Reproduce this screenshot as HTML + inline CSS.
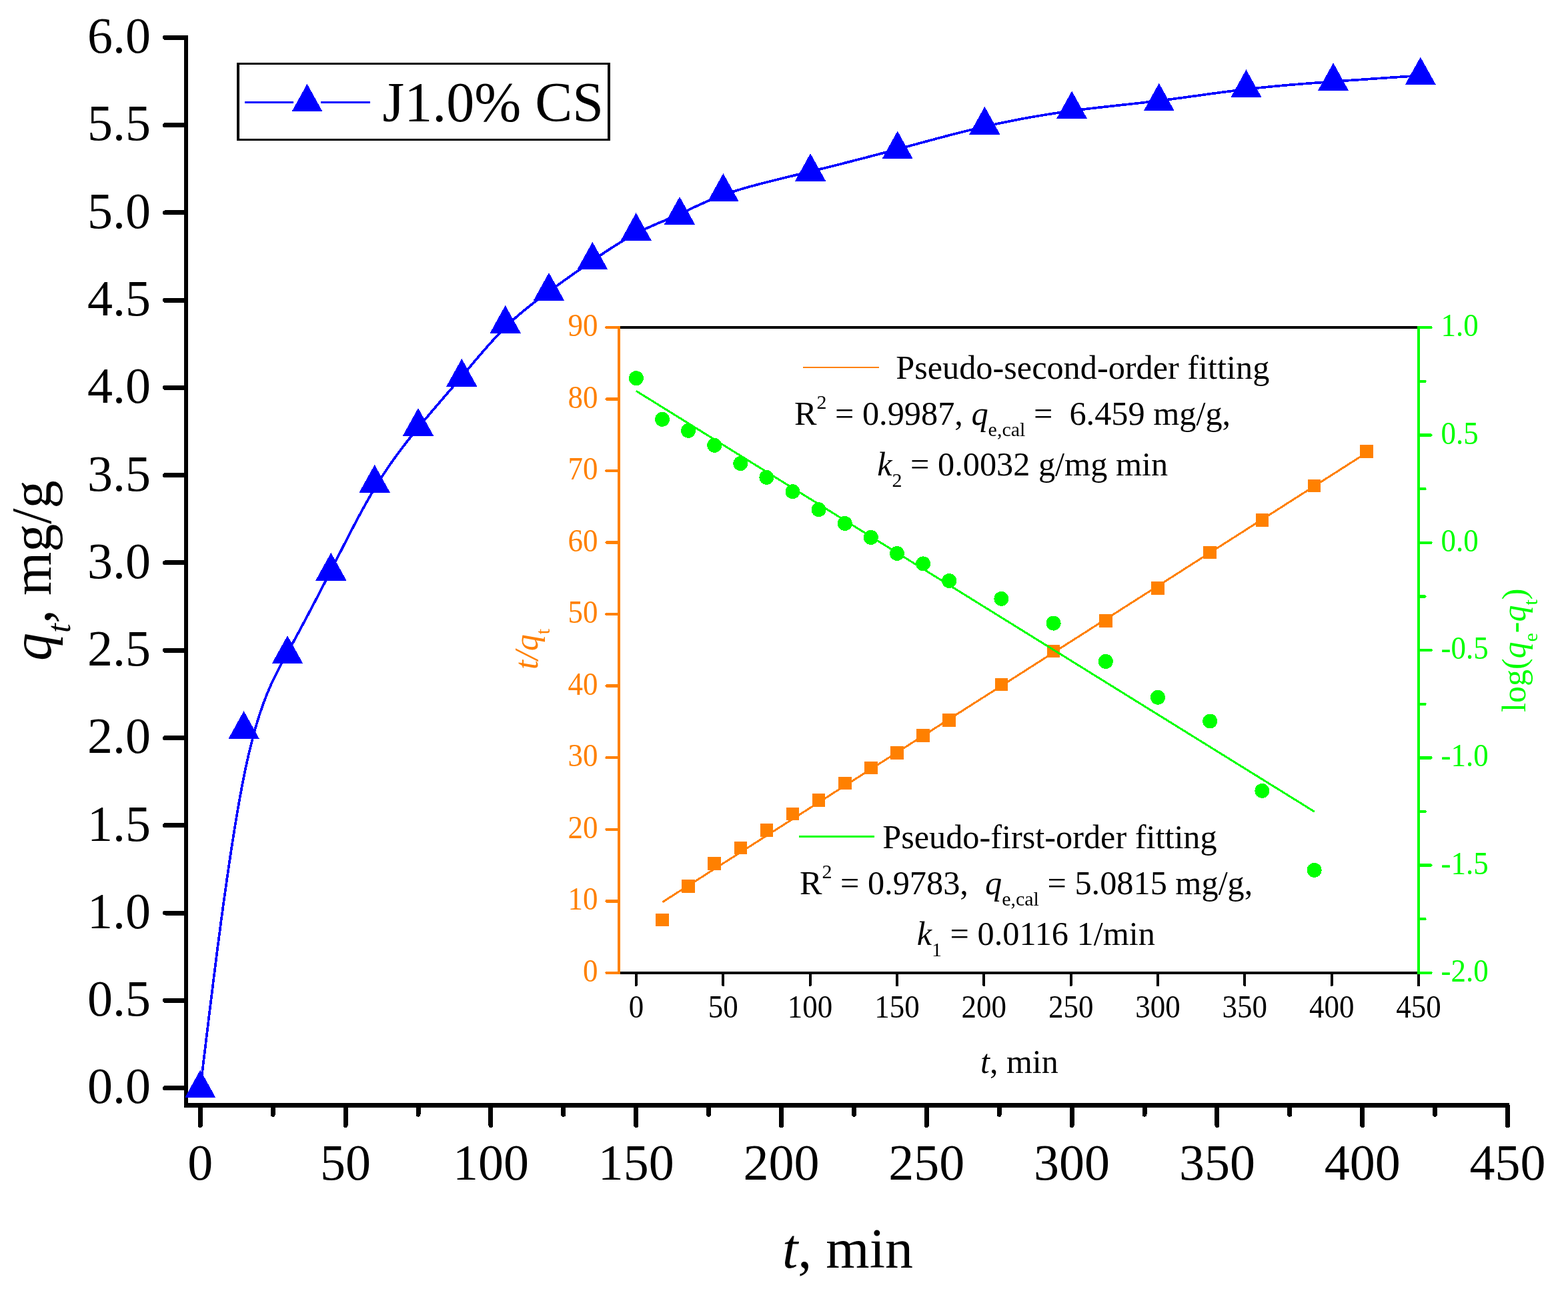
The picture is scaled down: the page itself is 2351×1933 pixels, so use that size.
<!DOCTYPE html>
<html><head><meta charset="utf-8"><title>Adsorption kinetics</title>
<style>html,body{margin:0;padding:0;background:#fff;}body{width:2351px;height:1933px;overflow:hidden;}svg{display:block;}text{white-space:pre;}</style>
</head><body>
<svg width="2351" height="1933" viewBox="0 0 2351 1933" font-family="'Liberation Serif', 'Times New Roman', serif" shape-rendering="crispEdges">
<rect width="2351" height="1933" fill="#fff"/>
<g fill="#000">
<rect x="276" y="53" width="6" height="1608"/>
<rect x="276" y="1654" width="1987" height="7"/>
</g>
<g stroke="#000" stroke-width="7" stroke-linecap="round">
<line x1="247.5" y1="1631.5" x2="278" y2="1631.5"/>
<line x1="247.5" y1="1500.2" x2="278" y2="1500.2"/>
<line x1="247.5" y1="1369.0" x2="278" y2="1369.0"/>
<line x1="247.5" y1="1237.7" x2="278" y2="1237.7"/>
<line x1="247.5" y1="1106.5" x2="278" y2="1106.5"/>
<line x1="247.5" y1="975.2" x2="278" y2="975.2"/>
<line x1="247.5" y1="843.9" x2="278" y2="843.9"/>
<line x1="247.5" y1="712.7" x2="278" y2="712.7"/>
<line x1="247.5" y1="581.4" x2="278" y2="581.4"/>
<line x1="247.5" y1="450.2" x2="278" y2="450.2"/>
<line x1="247.5" y1="318.9" x2="278" y2="318.9"/>
<line x1="247.5" y1="187.6" x2="278" y2="187.6"/>
<line x1="247.5" y1="56.4" x2="278" y2="56.4"/>
<line x1="300.3" y1="1659" x2="300.3" y2="1687.5"/>
<line x1="518.1" y1="1659" x2="518.1" y2="1687.5"/>
<line x1="735.9" y1="1659" x2="735.9" y2="1687.5"/>
<line x1="953.7" y1="1659" x2="953.7" y2="1687.5"/>
<line x1="1171.5" y1="1659" x2="1171.5" y2="1687.5"/>
<line x1="1389.3" y1="1659" x2="1389.3" y2="1687.5"/>
<line x1="1607.1" y1="1659" x2="1607.1" y2="1687.5"/>
<line x1="1824.9" y1="1659" x2="1824.9" y2="1687.5"/>
<line x1="2042.7" y1="1659" x2="2042.7" y2="1687.5"/>
<line x1="2260.5" y1="1659" x2="2260.5" y2="1687.5"/>
<line x1="409.2" y1="1659" x2="409.2" y2="1671.2"/>
<line x1="627.0" y1="1659" x2="627.0" y2="1671.2"/>
<line x1="844.8" y1="1659" x2="844.8" y2="1671.2"/>
<line x1="1062.6" y1="1659" x2="1062.6" y2="1671.2"/>
<line x1="1280.4" y1="1659" x2="1280.4" y2="1671.2"/>
<line x1="1498.2" y1="1659" x2="1498.2" y2="1671.2"/>
<line x1="1716.0" y1="1659" x2="1716.0" y2="1671.2"/>
<line x1="1933.8" y1="1659" x2="1933.8" y2="1671.2"/>
<line x1="2151.6" y1="1659" x2="2151.6" y2="1671.2"/>
</g>
<g font-size="76" fill="#000">
<text x="226" y="1654.3" text-anchor="end">0.0</text>
<text x="226" y="1523.0" text-anchor="end">0.5</text>
<text x="226" y="1391.8" text-anchor="end">1.0</text>
<text x="226" y="1260.5" text-anchor="end">1.5</text>
<text x="226" y="1129.3" text-anchor="end">2.0</text>
<text x="226" y="998.0" text-anchor="end">2.5</text>
<text x="226" y="866.7" text-anchor="end">3.0</text>
<text x="226" y="735.5" text-anchor="end">3.5</text>
<text x="226" y="604.2" text-anchor="end">4.0</text>
<text x="226" y="473.0" text-anchor="end">4.5</text>
<text x="226" y="341.7" text-anchor="end">5.0</text>
<text x="226" y="210.4" text-anchor="end">5.5</text>
<text x="226" y="79.2" text-anchor="end">6.0</text>
<text x="300.3" y="1769.3" text-anchor="middle">0</text>
<text x="518.1" y="1769.3" text-anchor="middle">50</text>
<text x="735.9" y="1769.3" text-anchor="middle">100</text>
<text x="953.7" y="1769.3" text-anchor="middle">150</text>
<text x="1171.5" y="1769.3" text-anchor="middle">200</text>
<text x="1389.3" y="1769.3" text-anchor="middle">250</text>
<text x="1607.1" y="1769.3" text-anchor="middle">300</text>
<text x="1824.9" y="1769.3" text-anchor="middle">350</text>
<text x="2042.7" y="1769.3" text-anchor="middle">400</text>
<text x="2260.5" y="1769.3" text-anchor="middle">450</text>
</g>
<text x="1173" y="1901" font-size="84"><tspan font-style="italic">t</tspan>, min</text>
<text transform="translate(76,991) rotate(-90)" font-size="84"><tspan font-style="italic">q</tspan><tspan font-style="italic" font-size="50" dy="29">t</tspan><tspan dy="-29">, mg/g</tspan></text>
<path d="M300.30,1632.20 L300.30,1632.20 L300.30,1632.19 L300.30,1632.16 L300.31,1632.11 L300.32,1632.02 L300.34,1631.90 L300.36,1631.72 L300.39,1631.48 L300.42,1631.18 L300.47,1630.80 L300.53,1630.33 L300.59,1629.78 L300.67,1629.12 L300.77,1628.35 L300.87,1627.47 L301.00,1626.46 L301.14,1625.31 L301.29,1624.02 L301.47,1622.58 L301.66,1620.99 L301.88,1619.22 L302.11,1617.27 L302.37,1615.14 L302.65,1612.82 L302.96,1610.30 L303.29,1607.56 L303.65,1604.61 L304.04,1601.43 L304.45,1598.01 L304.89,1594.35 L305.37,1590.44 L305.88,1586.27 L306.41,1581.82 L306.99,1577.10 L307.60,1572.10 L308.24,1566.80 L308.92,1561.19 L309.64,1555.28 L310.39,1549.05 L311.19,1542.48 L312.03,1535.59 L312.90,1528.37 L313.82,1520.85 L314.77,1513.04 L315.76,1504.95 L316.79,1496.60 L317.85,1488.00 L318.94,1479.17 L320.07,1470.13 L321.23,1460.88 L322.42,1451.45 L323.64,1441.85 L324.88,1432.09 L326.16,1422.19 L327.46,1412.17 L328.79,1402.04 L330.14,1391.81 L331.51,1381.50 L332.91,1371.12 L334.33,1360.69 L335.77,1350.23 L337.23,1339.75 L338.71,1329.26 L340.20,1318.79 L341.71,1308.33 L343.24,1297.92 L344.78,1287.56 L346.33,1277.27 L347.90,1267.07 L349.48,1256.97 L351.06,1246.98 L352.66,1237.13 L354.26,1227.41 L355.88,1217.86 L357.49,1208.49 L359.12,1199.30 L360.74,1190.32 L362.37,1181.56 L364.01,1173.04 L365.64,1164.77 L367.27,1156.76 L368.91,1149.00 L370.54,1141.50 L372.17,1134.25 L373.81,1127.23 L375.44,1120.45 L377.07,1113.89 L378.71,1107.55 L380.34,1101.42 L381.97,1095.49 L383.61,1089.76 L385.24,1084.23 L386.88,1078.87 L388.51,1073.70 L390.14,1068.69 L391.78,1063.85 L393.41,1059.16 L395.04,1054.63 L396.68,1050.23 L398.31,1045.98 L399.94,1041.85 L401.58,1037.84 L403.21,1033.96 L404.84,1030.18 L406.48,1026.50 L408.11,1022.92 L409.74,1019.42 L411.38,1016.01 L413.01,1012.67 L414.64,1009.40 L416.28,1006.19 L417.91,1003.04 L419.55,999.93 L421.18,996.87 L422.81,993.84 L424.45,990.83 L426.08,987.85 L427.71,984.88 L429.35,981.91 L430.98,978.95 L432.61,975.98 L434.25,973.00 L435.88,970.02 L437.51,967.03 L439.15,964.03 L440.78,961.03 L442.41,958.02 L444.05,955.00 L445.68,951.98 L447.31,948.95 L448.95,945.91 L450.58,942.87 L452.22,939.82 L453.85,936.77 L455.48,933.70 L457.12,930.64 L458.75,927.56 L460.38,924.48 L462.02,921.40 L463.65,918.31 L465.28,915.21 L466.92,912.11 L468.55,909.00 L470.18,905.88 L471.82,902.76 L473.45,899.63 L475.08,896.50 L476.72,893.36 L478.35,890.22 L479.98,887.07 L481.62,883.92 L483.25,880.76 L484.89,877.60 L486.52,874.43 L488.15,871.25 L489.79,868.07 L491.42,864.89 L493.05,861.70 L494.69,858.50 L496.32,855.30 L497.95,852.10 L499.59,848.89 L501.22,845.67 L502.85,842.46 L504.49,839.24 L506.12,836.03 L507.75,832.81 L509.39,829.60 L511.02,826.38 L512.65,823.17 L514.29,819.97 L515.92,816.77 L517.56,813.57 L519.19,810.38 L520.82,807.20 L522.46,804.02 L524.09,800.85 L525.72,797.70 L527.36,794.55 L528.99,791.42 L530.62,788.29 L532.26,785.18 L533.89,782.09 L535.52,779.01 L537.16,775.94 L538.79,772.90 L540.42,769.86 L542.06,766.85 L543.69,763.86 L545.33,760.88 L546.96,757.93 L548.59,755.00 L550.23,752.09 L551.86,749.21 L553.49,746.35 L555.13,743.51 L556.76,740.70 L558.39,737.92 L560.03,735.16 L561.66,732.43 L563.29,729.74 L564.93,727.07 L566.56,724.43 L568.19,721.81 L569.83,719.23 L571.46,716.67 L573.09,714.13 L574.73,711.63 L576.36,709.14 L578.00,706.68 L579.63,704.25 L581.26,701.84 L582.90,699.45 L584.53,697.08 L586.16,694.73 L587.80,692.41 L589.43,690.11 L591.06,687.82 L592.70,685.56 L594.33,683.31 L595.96,681.08 L597.60,678.87 L599.23,676.68 L600.86,674.50 L602.50,672.34 L604.13,670.19 L605.76,668.06 L607.40,665.95 L609.03,663.84 L610.66,661.75 L612.30,659.68 L613.93,657.61 L615.57,655.56 L617.20,653.51 L618.83,651.48 L620.47,649.46 L622.10,647.44 L623.73,645.44 L625.37,643.44 L627.00,641.45 L628.63,639.47 L630.27,637.49 L631.90,635.52 L633.53,633.56 L635.17,631.60 L636.80,629.65 L638.43,627.70 L640.07,625.76 L641.70,623.82 L643.33,621.89 L644.97,619.96 L646.60,618.04 L648.24,616.12 L649.87,614.20 L651.50,612.29 L653.14,610.37 L654.77,608.47 L656.40,606.56 L658.04,604.66 L659.67,602.75 L661.30,600.85 L662.94,598.95 L664.57,597.06 L666.20,595.16 L667.84,593.26 L669.47,591.37 L671.10,589.47 L672.74,587.57 L674.37,585.67 L676.00,583.77 L677.64,581.88 L679.27,579.97 L680.91,578.07 L682.54,576.17 L684.17,574.26 L685.81,572.35 L687.44,570.44 L689.07,568.52 L690.71,566.61 L692.34,564.68 L693.97,562.76 L695.61,560.83 L697.24,558.90 L698.87,556.96 L700.51,555.03 L702.14,553.09 L703.77,551.16 L705.41,549.22 L707.04,547.29 L708.67,545.35 L710.31,543.42 L711.94,541.49 L713.58,539.56 L715.21,537.64 L716.84,535.72 L718.48,533.81 L720.11,531.90 L721.74,530.00 L723.38,528.11 L725.01,526.22 L726.64,524.34 L728.28,522.47 L729.91,520.60 L731.54,518.75 L733.18,516.91 L734.81,515.08 L736.44,513.25 L738.08,511.44 L739.71,509.65 L741.35,507.86 L742.98,506.09 L744.61,504.34 L746.25,502.60 L747.88,500.87 L749.51,499.16 L751.15,497.47 L752.78,495.79 L754.41,494.13 L756.05,492.49 L757.68,490.87 L759.31,489.26 L760.95,487.68 L762.58,486.11 L764.21,484.57 L765.85,483.04 L767.48,481.52 L769.11,480.03 L770.75,478.55 L772.38,477.09 L774.01,475.64 L775.65,474.20 L777.28,472.78 L778.92,471.38 L780.55,469.99 L782.18,468.61 L783.82,467.25 L785.45,465.89 L787.08,464.55 L788.72,463.22 L790.35,461.90 L791.98,460.60 L793.62,459.30 L795.25,458.01 L796.88,456.73 L798.52,455.46 L800.15,454.20 L801.78,452.95 L803.42,451.70 L805.05,450.46 L806.68,449.23 L808.32,448.00 L809.95,446.78 L811.59,445.56 L813.22,444.35 L814.85,443.15 L816.49,441.95 L818.12,440.75 L819.75,439.55 L821.39,438.36 L823.02,437.17 L824.65,435.98 L826.29,434.79 L827.92,433.60 L829.55,432.42 L831.19,431.24 L832.82,430.06 L834.45,428.88 L836.09,427.70 L837.72,426.53 L839.35,425.35 L840.99,424.18 L842.62,423.01 L844.26,421.84 L845.89,420.68 L847.52,419.51 L849.16,418.35 L850.79,417.19 L852.42,416.03 L854.06,414.87 L855.69,413.71 L857.32,412.56 L858.96,411.40 L860.59,410.25 L862.22,409.10 L863.86,407.96 L865.49,406.81 L867.12,405.66 L868.76,404.52 L870.39,403.38 L872.02,402.24 L873.66,401.10 L875.29,399.97 L876.93,398.83 L878.56,397.70 L880.19,396.57 L881.83,395.44 L883.46,394.31 L885.09,393.18 L886.73,392.06 L888.36,390.93 L889.99,389.81 L891.63,388.69 L893.26,387.57 L894.89,386.46 L896.53,385.35 L898.16,384.24 L899.79,383.13 L901.43,382.03 L903.06,380.93 L904.69,379.83 L906.33,378.74 L907.96,377.66 L909.60,376.57 L911.23,375.50 L912.86,374.43 L914.50,373.36 L916.13,372.30 L917.76,371.25 L919.40,370.20 L921.03,369.16 L922.66,368.12 L924.30,367.10 L925.93,366.08 L927.56,365.07 L929.20,364.06 L930.83,363.07 L932.46,362.08 L934.10,361.10 L935.73,360.13 L937.36,359.17 L939.00,358.22 L940.63,357.28 L942.27,356.35 L943.90,355.43 L945.53,354.52 L947.17,353.62 L948.80,352.73 L950.43,351.85 L952.07,350.99 L953.70,350.13 L955.33,349.29 L956.97,348.46 L958.60,347.64 L960.23,346.84 L961.87,346.04 L963.50,345.25 L965.13,344.47 L966.77,343.70 L968.40,342.94 L970.03,342.19 L971.67,341.44 L973.30,340.70 L974.94,339.97 L976.57,339.24 L978.20,338.52 L979.84,337.80 L981.47,337.09 L983.10,336.39 L984.74,335.68 L986.37,334.98 L988.00,334.28 L989.64,333.59 L991.27,332.89 L992.90,332.20 L994.54,331.51 L996.17,330.82 L997.80,330.13 L999.44,329.44 L1001.07,328.74 L1002.70,328.05 L1004.34,327.35 L1005.97,326.65 L1007.61,325.95 L1009.24,325.25 L1010.87,324.54 L1012.51,323.82 L1014.14,323.10 L1015.77,322.38 L1017.41,321.65 L1019.04,320.92 L1020.67,320.17 L1022.31,319.43 L1023.95,318.67 L1025.58,317.91 L1027.23,317.14 L1028.88,316.37 L1030.53,315.60 L1032.20,314.81 L1033.87,314.03 L1035.55,313.24 L1037.23,312.44 L1038.94,311.64 L1040.65,310.84 L1042.38,310.03 L1044.12,309.22 L1045.87,308.41 L1047.65,307.59 L1049.44,306.77 L1051.24,305.95 L1053.07,305.13 L1054.92,304.30 L1056.79,303.48 L1058.68,302.65 L1060.60,301.82 L1062.54,300.99 L1064.50,300.16 L1066.49,299.33 L1068.51,298.50 L1070.56,297.67 L1072.64,296.84 L1074.75,296.01 L1076.89,295.18 L1079.06,294.36 L1081.27,293.53 L1083.51,292.71 L1085.78,291.88 L1088.10,291.06 L1090.45,290.24 L1092.84,289.43 L1095.27,288.62 L1097.74,287.81 L1100.25,287.00 L1102.80,286.20 L1105.39,285.39 L1108.01,284.60 L1110.67,283.80 L1113.36,283.01 L1116.09,282.21 L1118.85,281.42 L1121.64,280.64 L1124.47,279.85 L1127.32,279.06 L1130.20,278.28 L1133.11,277.50 L1136.04,276.72 L1139.00,275.94 L1141.99,275.16 L1145.00,274.38 L1148.03,273.60 L1151.08,272.83 L1154.15,272.05 L1157.25,271.27 L1160.36,270.50 L1163.48,269.72 L1166.63,268.95 L1169.79,268.17 L1172.96,267.39 L1176.15,266.62 L1179.35,265.84 L1182.56,265.06 L1185.78,264.28 L1189.01,263.50 L1192.25,262.72 L1195.49,261.93 L1198.75,261.15 L1202.00,260.36 L1205.26,259.58 L1208.53,258.79 L1211.79,257.99 L1215.06,257.20 L1218.33,256.40 L1221.59,255.61 L1224.86,254.80 L1228.13,254.00 L1231.39,253.20 L1234.66,252.39 L1237.93,251.58 L1241.20,250.77 L1244.46,249.96 L1247.73,249.14 L1251.00,248.32 L1254.26,247.50 L1257.53,246.68 L1260.80,245.85 L1264.06,245.03 L1267.33,244.20 L1270.60,243.37 L1273.87,242.53 L1277.13,241.70 L1280.40,240.86 L1283.67,240.02 L1286.93,239.18 L1290.20,238.34 L1293.47,237.49 L1296.73,236.65 L1300.00,235.80 L1303.27,234.95 L1306.54,234.09 L1309.80,233.24 L1313.07,232.38 L1316.34,231.52 L1319.60,230.66 L1322.87,229.80 L1326.14,228.93 L1329.40,228.06 L1332.67,227.19 L1335.94,226.32 L1339.21,225.45 L1342.47,224.58 L1345.74,223.70 L1349.01,222.82 L1352.27,221.94 L1355.54,221.06 L1358.81,220.18 L1362.07,219.29 L1365.34,218.41 L1368.61,217.53 L1371.88,216.64 L1375.14,215.76 L1378.41,214.87 L1381.68,213.99 L1384.94,213.11 L1388.21,212.23 L1391.48,211.35 L1394.74,210.47 L1398.01,209.59 L1401.28,208.72 L1404.55,207.85 L1407.81,206.98 L1411.08,206.11 L1414.35,205.25 L1417.61,204.39 L1420.88,203.54 L1424.15,202.69 L1427.41,201.84 L1430.68,201.00 L1433.95,200.16 L1437.22,199.33 L1440.48,198.50 L1443.75,197.68 L1447.02,196.86 L1450.28,196.05 L1453.55,195.25 L1456.82,194.45 L1460.09,193.66 L1463.35,192.88 L1466.62,192.10 L1469.89,191.33 L1473.15,190.57 L1476.42,189.82 L1479.69,189.07 L1482.95,188.34 L1486.22,187.61 L1489.49,186.89 L1492.75,186.18 L1496.02,185.47 L1499.29,184.78 L1502.56,184.09 L1505.82,183.41 L1509.09,182.74 L1512.36,182.08 L1515.62,181.42 L1518.89,180.78 L1522.16,180.14 L1525.42,179.50 L1528.69,178.88 L1531.96,178.27 L1535.23,177.66 L1538.49,177.06 L1541.76,176.47 L1545.03,175.88 L1548.29,175.31 L1551.56,174.74 L1554.83,174.18 L1558.09,173.62 L1561.36,173.08 L1564.63,172.54 L1567.90,172.01 L1571.16,171.48 L1574.43,170.97 L1577.70,170.46 L1580.96,169.96 L1584.23,169.47 L1587.50,168.98 L1590.76,168.50 L1594.03,168.03 L1597.30,167.57 L1600.57,167.11 L1603.83,166.66 L1607.10,166.22 L1610.37,165.78 L1613.63,165.35 L1616.90,164.93 L1620.17,164.52 L1623.43,164.11 L1626.70,163.70 L1629.97,163.30 L1633.24,162.91 L1636.50,162.52 L1639.77,162.14 L1643.04,161.76 L1646.30,161.38 L1649.57,161.01 L1652.84,160.63 L1656.10,160.27 L1659.37,159.90 L1662.64,159.54 L1665.91,159.18 L1669.17,158.82 L1672.44,158.46 L1675.71,158.10 L1678.97,157.75 L1682.24,157.39 L1685.51,157.03 L1688.77,156.68 L1692.04,156.32 L1695.31,155.96 L1698.58,155.60 L1701.84,155.24 L1705.11,154.88 L1708.38,154.51 L1711.64,154.14 L1714.91,153.77 L1718.18,153.40 L1721.44,153.02 L1724.71,152.64 L1727.98,152.25 L1731.25,151.86 L1734.51,151.47 L1737.78,151.07 L1741.05,150.66 L1744.31,150.25 L1747.58,149.84 L1750.85,149.42 L1754.11,148.99 L1757.38,148.57 L1760.65,148.13 L1763.92,147.70 L1767.18,147.26 L1770.45,146.82 L1773.72,146.38 L1776.98,145.94 L1780.25,145.49 L1783.52,145.04 L1786.78,144.59 L1790.05,144.14 L1793.32,143.69 L1796.59,143.24 L1799.85,142.79 L1803.12,142.34 L1806.39,141.89 L1809.65,141.44 L1812.92,140.99 L1816.19,140.54 L1819.45,140.10 L1822.72,139.65 L1825.99,139.21 L1829.26,138.78 L1832.52,138.34 L1835.79,137.91 L1839.06,137.48 L1842.32,137.06 L1845.59,136.64 L1848.86,136.22 L1852.12,135.81 L1855.39,135.40 L1858.66,135.00 L1861.93,134.61 L1865.19,134.22 L1868.46,133.83 L1871.73,133.46 L1874.99,133.09 L1878.26,132.72 L1881.53,132.36 L1884.79,132.01 L1888.06,131.67 L1891.33,131.32 L1894.60,130.99 L1897.86,130.66 L1901.13,130.33 L1904.40,130.01 L1907.66,129.70 L1910.93,129.39 L1914.20,129.08 L1917.46,128.78 L1920.73,128.49 L1924.00,128.19 L1927.27,127.91 L1930.53,127.62 L1933.80,127.34 L1937.07,127.06 L1940.33,126.79 L1943.60,126.52 L1946.87,126.25 L1950.13,125.99 L1953.40,125.73 L1956.67,125.47 L1959.94,125.22 L1963.20,124.96 L1966.47,124.71 L1969.74,124.46 L1973.00,124.22 L1976.27,123.97 L1979.54,123.73 L1982.80,123.49 L1986.07,123.25 L1989.34,123.01 L1992.61,122.77 L1995.87,122.54 L1999.14,122.30 L2002.41,122.07 L2005.67,121.83 L2008.93,121.60 L2012.19,121.37 L2015.43,121.14 L2018.67,120.91 L2021.89,120.68 L2025.10,120.45 L2028.29,120.23 L2031.47,120.01 L2034.62,119.79 L2037.76,119.57 L2040.86,119.35 L2043.94,119.14 L2047.00,118.93 L2050.02,118.72 L2053.01,118.51 L2055.96,118.31 L2058.88,118.11 L2061.76,117.91 L2064.60,117.71 L2067.39,117.52 L2070.14,117.33 L2072.84,117.15 L2075.50,116.97 L2078.10,116.79 L2080.65,116.62 L2083.15,116.45 L2085.58,116.28 L2087.96,116.12 L2090.28,115.96 L2092.53,115.81 L2094.72,115.66 L2096.84,115.52 L2098.89,115.38 L2100.87,115.25 L2102.78,115.12 L2104.61,115.00 L2106.37,114.88 L2108.04,114.77 L2109.63,114.66 L2111.15,114.56 L2112.58,114.46 L2113.94,114.37 L2115.23,114.28 L2116.44,114.20 L2117.59,114.12 L2118.67,114.05 L2119.68,113.98 L2120.63,113.92 L2121.52,113.86 L2122.35,113.80 L2123.12,113.75 L2123.84,113.70 L2124.50,113.66 L2125.12,113.62 L2125.68,113.58 L2126.20,113.54 L2126.67,113.51 L2127.10,113.48 L2127.49,113.46 L2127.84,113.43 L2128.15,113.41 L2128.43,113.39 L2128.67,113.38 L2128.89,113.36 L2129.07,113.35 L2129.23,113.34 L2129.37,113.33 L2129.48,113.32 L2129.57,113.32 L2129.65,113.31 L2129.70,113.31 L2129.75,113.30 L2129.78,113.30 L2129.80,113.30 L2129.81,113.30 L2129.82,113.30 L2129.82,113.30 L2129.82,113.30" fill="none" stroke="#0000FF" stroke-width="3.7" stroke-linejoin="round"/>
<g fill="#0000FF">
<path d="M300.3,1604.4 L323.4,1646.1 L277.2,1646.1 Z"/>
<path d="M365.6,1066.1 L388.7,1107.8 L342.5,1107.8 Z"/>
<path d="M431.0,953.0 L454.1,994.7 L407.9,994.7 Z"/>
<path d="M496.3,828.8 L519.4,870.5 L473.2,870.5 Z"/>
<path d="M561.7,696.8 L584.8,738.5 L538.6,738.5 Z"/>
<path d="M627.0,611.8 L650.1,653.5 L603.9,653.5 Z"/>
<path d="M692.3,537.9 L715.4,579.6 L669.2,579.6 Z"/>
<path d="M757.7,457.9 L780.8,499.6 L734.6,499.6 Z"/>
<path d="M823.0,408.9 L846.1,450.6 L799.9,450.6 Z"/>
<path d="M888.4,362.7 L911.5,404.4 L865.3,404.4 Z"/>
<path d="M953.7,319.1 L976.8,360.8 L930.6,360.8 Z"/>
<path d="M1019.0,294.9 L1042.1,336.6 L995.9,336.6 Z"/>
<path d="M1084.4,260.0 L1107.5,301.7 L1061.3,301.7 Z"/>
<path d="M1215.1,230.0 L1238.2,271.7 L1192.0,271.7 Z"/>
<path d="M1345.7,196.4 L1368.8,238.1 L1322.6,238.1 Z"/>
<path d="M1476.4,159.8 L1499.5,201.5 L1453.3,201.5 Z"/>
<path d="M1607.1,136.5 L1630.2,178.2 L1584.0,178.2 Z"/>
<path d="M1737.8,124.7 L1760.9,166.4 L1714.7,166.4 Z"/>
<path d="M1868.5,104.3 L1891.6,146.0 L1845.4,146.0 Z"/>
<path d="M1999.1,94.3 L2022.2,136.0 L1976.0,136.0 Z"/>
<path d="M2129.8,85.5 L2152.9,127.2 L2106.7,127.2 Z"/>
</g>
<rect x="357.1" y="95.7" width="556.1" height="113.9" fill="none" stroke="#000" stroke-width="3.4"/>
<path d="M366.5,153.5 H440 M481,153.5 H554.5" stroke="#0000FF" stroke-width="3.2"/>
<g fill="#0000FF"><path d="M460.5,125.7 L483.6,167.4 L437.4,167.4 Z"/></g>
<text x="573.5" y="182" font-size="84">J1.0% CS</text>
<rect x="929" y="491" width="1197" height="967" fill="#fff"/>
<line x1="993.3" y1="1352.8" x2="2049" y2="679" stroke="#FF8000" stroke-width="3"/>
<g fill="#FF8000">
<rect x="983.2" y="1369.8" width="19.6" height="19.6"/>
<rect x="1022.3" y="1319.1" width="19.6" height="19.6"/>
<rect x="1061.4" y="1285.0" width="19.6" height="19.6"/>
<rect x="1100.5" y="1261.8" width="19.6" height="19.6"/>
<rect x="1139.6" y="1235.1" width="19.6" height="19.6"/>
<rect x="1178.7" y="1210.5" width="19.6" height="19.6"/>
<rect x="1217.8" y="1190.1" width="19.6" height="19.6"/>
<rect x="1256.9" y="1164.8" width="19.6" height="19.6"/>
<rect x="1296.0" y="1141.6" width="19.6" height="19.6"/>
<rect x="1335.2" y="1119.2" width="19.6" height="19.6"/>
<rect x="1374.3" y="1093.2" width="19.6" height="19.6"/>
<rect x="1413.4" y="1070.2" width="19.6" height="19.6"/>
<rect x="1491.6" y="1016.8" width="19.6" height="19.6"/>
<rect x="1569.8" y="966.8" width="19.6" height="19.6"/>
<rect x="1648.0" y="921.0" width="19.6" height="19.6"/>
<rect x="1726.2" y="871.9" width="19.6" height="19.6"/>
<rect x="1804.4" y="818.7" width="19.6" height="19.6"/>
<rect x="1882.6" y="770.4" width="19.6" height="19.6"/>
<rect x="1960.8" y="718.8" width="19.6" height="19.6"/>
<rect x="2039.0" y="667.0" width="19.6" height="19.6"/>
</g>
<line x1="953.7" y1="586.2" x2="1971" y2="1217.3" stroke="#00FF00" stroke-width="3"/>
<g fill="#00FF00">
<circle cx="953.9" cy="567.2" r="11"/>
<circle cx="993.0" cy="628.8" r="11"/>
<circle cx="1032.1" cy="645.8" r="11"/>
<circle cx="1071.2" cy="667.8" r="11"/>
<circle cx="1110.3" cy="695.1" r="11"/>
<circle cx="1149.4" cy="715.9" r="11"/>
<circle cx="1188.5" cy="737.2" r="11"/>
<circle cx="1227.6" cy="764.2" r="11"/>
<circle cx="1266.7" cy="785.0" r="11"/>
<circle cx="1305.8" cy="805.9" r="11"/>
<circle cx="1345.0" cy="830.0" r="11"/>
<circle cx="1384.1" cy="845.4" r="11"/>
<circle cx="1423.2" cy="871.0" r="11"/>
<circle cx="1501.4" cy="897.9" r="11"/>
<circle cx="1579.6" cy="934.6" r="11"/>
<circle cx="1657.8" cy="991.9" r="11"/>
<circle cx="1736.0" cy="1045.7" r="11"/>
<circle cx="1814.2" cy="1081.5" r="11"/>
<circle cx="1892.4" cy="1185.9" r="11"/>
<circle cx="1970.6" cy="1304.9" r="11"/>
</g>
<g stroke="#FF8000" stroke-width="4.4" stroke-linecap="round">
<line x1="909.5" y1="1458.8" x2="928" y2="1458.8"/>
<line x1="909.5" y1="1351.3" x2="928" y2="1351.3"/>
<line x1="909.5" y1="1243.7" x2="928" y2="1243.7"/>
<line x1="909.5" y1="1136.2" x2="928" y2="1136.2"/>
<line x1="909.5" y1="1028.6" x2="928" y2="1028.6"/>
<line x1="909.5" y1="921.1" x2="928" y2="921.1"/>
<line x1="909.5" y1="813.6" x2="928" y2="813.6"/>
<line x1="909.5" y1="706.0" x2="928" y2="706.0"/>
<line x1="909.5" y1="598.5" x2="928" y2="598.5"/>
<line x1="909.5" y1="490.9" x2="928" y2="490.9"/>
</g>
<g stroke="#00FF00" stroke-width="4.4" stroke-linecap="round">
<line x1="2127" y1="491.1" x2="2145.5" y2="491.1"/>
<line x1="2127" y1="652.4" x2="2145.5" y2="652.4"/>
<line x1="2127" y1="813.7" x2="2145.5" y2="813.7"/>
<line x1="2127" y1="975.0" x2="2145.5" y2="975.0"/>
<line x1="2127" y1="1136.3" x2="2145.5" y2="1136.3"/>
<line x1="2127" y1="1297.6" x2="2145.5" y2="1297.6"/>
<line x1="2127" y1="1458.9" x2="2145.5" y2="1458.9"/>
<line x1="2127" y1="571.8" x2="2136.5" y2="571.8"/>
<line x1="2127" y1="733.1" x2="2136.5" y2="733.1"/>
<line x1="2127" y1="894.4" x2="2136.5" y2="894.4"/>
<line x1="2127" y1="1055.7" x2="2136.5" y2="1055.7"/>
<line x1="2127" y1="1217.0" x2="2136.5" y2="1217.0"/>
<line x1="2127" y1="1378.2" x2="2136.5" y2="1378.2"/>
</g>
<g stroke="#000" stroke-width="4" stroke-linecap="round">
<line x1="953.9" y1="1459" x2="953.9" y2="1477.3"/>
<line x1="1084.2" y1="1459" x2="1084.2" y2="1477.3"/>
<line x1="1214.6" y1="1459" x2="1214.6" y2="1477.3"/>
<line x1="1345.0" y1="1459" x2="1345.0" y2="1477.3"/>
<line x1="1475.3" y1="1459" x2="1475.3" y2="1477.3"/>
<line x1="1605.7" y1="1459" x2="1605.7" y2="1477.3"/>
<line x1="1736.0" y1="1459" x2="1736.0" y2="1477.3"/>
<line x1="1866.3" y1="1459" x2="1866.3" y2="1477.3"/>
<line x1="1996.7" y1="1459" x2="1996.7" y2="1477.3"/>
<line x1="2127.1" y1="1459" x2="2127.1" y2="1477.3"/>
</g>
<rect x="926.3" y="489" width="1202.7" height="4" fill="#000"/>
<rect x="926.3" y="1457.2" width="1202.7" height="4" fill="#000"/>
<rect x="926.3" y="489" width="3.6" height="972" fill="#FF8000"/>
<rect x="2125.2" y="489" width="3.8" height="972" fill="#00FF00"/>
<g font-size="48" fill="#FF8000">
<text transform="translate(896.5,1471.8) scale(0.9375,1)" text-anchor="end">0</text>
<text transform="translate(896.5,1364.3) scale(0.9375,1)" text-anchor="end">10</text>
<text transform="translate(896.5,1256.7) scale(0.9375,1)" text-anchor="end">20</text>
<text transform="translate(896.5,1149.2) scale(0.9375,1)" text-anchor="end">30</text>
<text transform="translate(896.5,1041.6) scale(0.9375,1)" text-anchor="end">40</text>
<text transform="translate(896.5,934.1) scale(0.9375,1)" text-anchor="end">50</text>
<text transform="translate(896.5,826.6) scale(0.9375,1)" text-anchor="end">60</text>
<text transform="translate(896.5,719.0) scale(0.9375,1)" text-anchor="end">70</text>
<text transform="translate(896.5,611.5) scale(0.9375,1)" text-anchor="end">80</text>
<text transform="translate(896.5,503.9) scale(0.9375,1)" text-anchor="end">90</text>
</g>
<g font-size="48" fill="#00FF00">
<text transform="translate(2160.4,504.2) scale(0.9375,1)">1.0</text>
<text transform="translate(2160.4,665.5) scale(0.9375,1)">0.5</text>
<text transform="translate(2160.4,826.8) scale(0.9375,1)">0.0</text>
<text transform="translate(2160.4,988.1) scale(0.9375,1)">-0.5</text>
<text transform="translate(2160.4,1149.4) scale(0.9375,1)">-1.0</text>
<text transform="translate(2160.4,1310.7) scale(0.9375,1)">-1.5</text>
<text transform="translate(2160.4,1472.0) scale(0.9375,1)">-2.0</text>
</g>
<g font-size="48" fill="#000">
<text transform="translate(953.9,1525.8) scale(0.9375,1)" text-anchor="middle">0</text>
<text transform="translate(1084.2,1525.8) scale(0.9375,1)" text-anchor="middle">50</text>
<text transform="translate(1214.6,1525.8) scale(0.9375,1)" text-anchor="middle">100</text>
<text transform="translate(1345.0,1525.8) scale(0.9375,1)" text-anchor="middle">150</text>
<text transform="translate(1475.3,1525.8) scale(0.9375,1)" text-anchor="middle">200</text>
<text transform="translate(1605.7,1525.8) scale(0.9375,1)" text-anchor="middle">250</text>
<text transform="translate(1736.0,1525.8) scale(0.9375,1)" text-anchor="middle">300</text>
<text transform="translate(1866.3,1525.8) scale(0.9375,1)" text-anchor="middle">350</text>
<text transform="translate(1996.7,1525.8) scale(0.9375,1)" text-anchor="middle">400</text>
<text transform="translate(2127.1,1525.8) scale(0.9375,1)" text-anchor="middle">450</text>
</g>
<text x="1470" y="1608.7" font-size="50"><tspan font-style="italic">t</tspan>, min</text>
<text transform="translate(806,1004) rotate(-90)" font-size="50" fill="#FF8000"><tspan font-style="italic">t/q</tspan><tspan font-size="30" dy="17.5">t</tspan></text>
<text transform="translate(2287,1068) rotate(-90)" font-size="50" fill="#00FF00">log(<tspan font-style="italic">q</tspan><tspan font-size="30" dy="17.5">e</tspan><tspan dy="-17.5">-</tspan><tspan font-style="italic">q</tspan><tspan font-size="30" dy="17.5">t</tspan><tspan dy="-17.5">)</tspan></text>
<line x1="1203.8" y1="551" x2="1317.7" y2="551" stroke="#FF8000" stroke-width="2.5"/>
<text x="1343.2" y="567.8" font-size="50.3">Pseudo-second-order fitting</text>
<text x="1190.9" y="636.8" font-size="50.3">R<tspan font-size="30" dy="-24">2</tspan><tspan dy="24"> = 0.9987, </tspan><tspan font-style="italic">q</tspan><tspan font-size="30" dy="17">e,cal</tspan><tspan dy="-17"> =  6.459 mg/g,</tspan></text>
<text x="1315.2" y="713.2" font-size="50.3"><tspan font-style="italic">k</tspan><tspan font-size="30" dy="17">2</tspan><tspan dy="-17"> = 0.0032 g/mg min</tspan></text>
<line x1="1198.2" y1="1254.3" x2="1311.4" y2="1254.3" stroke="#00FF00" stroke-width="2.5"/>
<text x="1323.2" y="1271.9" font-size="50.3">Pseudo-first-order fitting</text>
<text x="1198.9" y="1340.9" font-size="50.3">R<tspan font-size="30" dy="-24">2</tspan><tspan dy="24"> = 0.9783,  </tspan><tspan font-style="italic">q</tspan><tspan font-size="30" dy="17">e,cal</tspan><tspan dy="-17"> = 5.0815 mg/g,</tspan></text>
<text x="1374.7" y="1416.9" font-size="50.3"><tspan font-style="italic">k</tspan><tspan font-size="30" dy="17">1</tspan><tspan dy="-17"> = 0.0116 1/min</tspan></text>
</svg>
</body></html>
